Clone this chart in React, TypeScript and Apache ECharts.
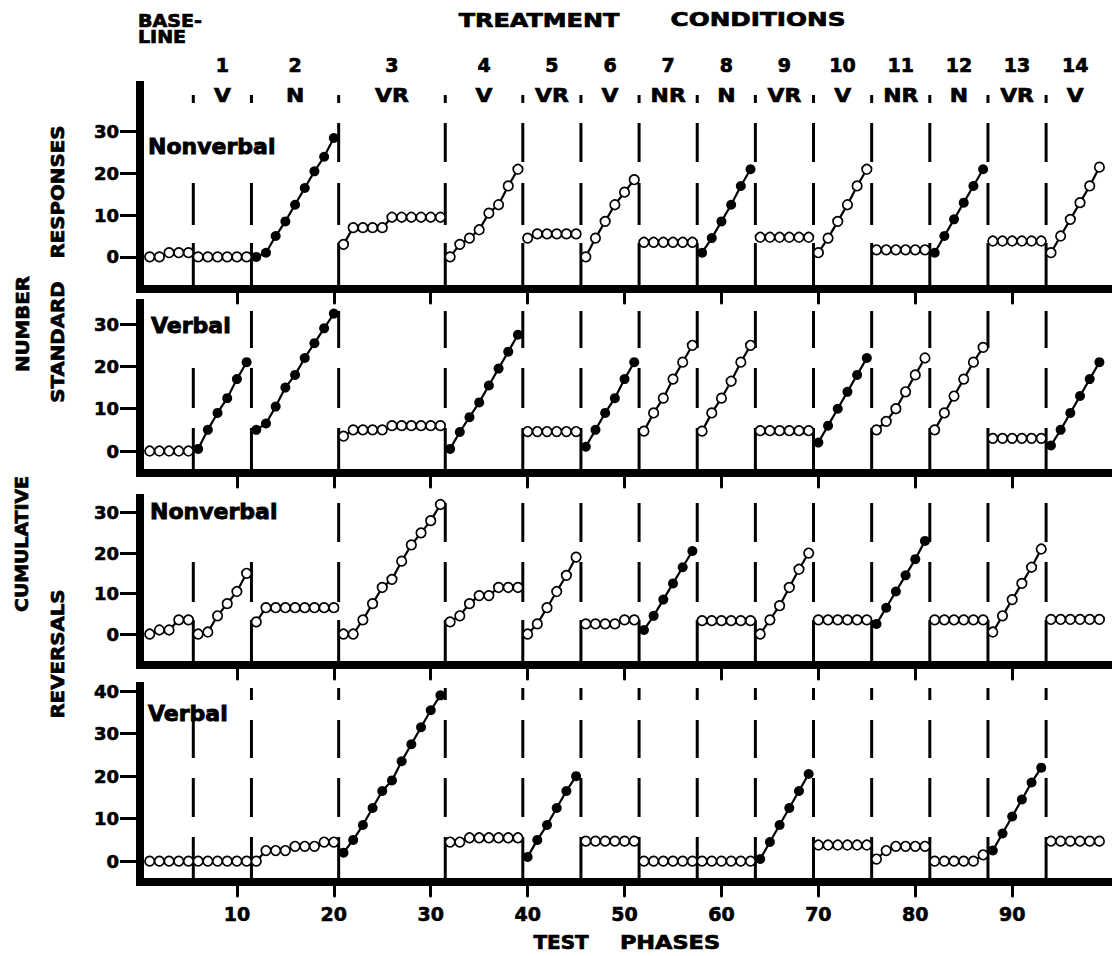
import { useEffect, useRef } from "react";
import * as echarts from "echarts";

// ---------- DATA ----------
const conditionLengths = [5, 6, 9, 11, 8, 6, 6, 6, 6, 6, 6, 6, 6, 6, 6];
const conditionNumbers = ["1", "2", "3", "4", "5", "6", "7", "8", "9", "10", "11", "12", "13", "14"];
const conditionCodes = ["V", "N", "VR", "V", "VR", "V", "NR", "N", "VR", "V", "NR", "N", "VR", "V"];
const xTickValues = [10, 20, 30, 40, 50, 60, 70, 80, 90];
const yTicksShort = [0, 10, 20, 30];
const yTicksTall = [0, 10, 20, 30, 40];
const panelLabels = ["Nonverbal", "Verbal", "Nonverbal", "Verbal"];

// values grouped by condition (index 0 = baseline)
const nonverbalResponses = [
  [0, 0, 1, 1, 1],
  [0, 0, 0, 0, 0, 0],
  [0, 1, 5, 8.5, 12.5, 16.5, 20.5, 24, 28.5],
  [3, 7, 7, 7, 7, 9.5, 9.5, 9.5, 9.5, 9.5, 9.5],
  [0, 3, 4.5, 6.5, 10.5, 12.5, 17, 21],
  [4.5, 5.5, 5.5, 5.5, 5.5, 5.5],
  [0, 4.5, 8.5, 12.5, 15.5, 18.5],
  [3.5, 3.5, 3.5, 3.5, 3.5, 3.5],
  [1, 4.5, 8.5, 12.5, 17, 21],
  [4.7, 4.7, 4.7, 4.7, 4.7, 4.7],
  [1, 4.5, 8.5, 12.5, 17, 21],
  [1.7, 1.7, 1.7, 1.7, 1.7, 1.7],
  [1, 5, 9, 13, 17, 21],
  [3.8, 3.8, 3.8, 3.8, 3.8, 3.8],
  [1, 5, 9, 13, 17, 21.5],
];
const verbalResponses = [
  [0, 0, 0, 0, 0],
  [0.5, 5, 9, 12.5, 17, 21],
  [5, 6.5, 10.5, 15, 18, 22, 25.5, 29, 32.5],
  [3.5, 5, 5, 5, 5, 6, 6, 6, 6, 6, 6],
  [0.5, 4.5, 8, 11.5, 15.5, 19.5, 23.5, 27.5],
  [4.6, 4.6, 4.6, 4.6, 4.6, 4.6],
  [1, 5, 9, 12.5, 17, 21],
  [4.7, 9, 12.5, 17, 21, 25],
  [4.7, 9, 12.5, 16.5, 21, 25],
  [4.8, 4.8, 4.8, 4.8, 4.8, 4.8],
  [2, 6, 10, 14, 18, 22],
  [5, 7, 10, 14, 18, 22],
  [5, 9, 13, 17, 21, 24.5],
  [3, 3, 3, 3, 3, 3],
  [1.3, 5, 9, 13, 17, 21],
];
const nonverbalReversals = [
  [0, 1, 1, 3.5, 3.5],
  [0, 0.5, 4.5, 7.5, 10.5, 15],
  [3, 6.5, 6.5, 6.5, 6.5, 6.5, 6.5, 6.5, 6.5],
  [0, 0, 3.5, 7.5, 11.5, 13.5, 18, 22, 25, 28, 32],
  [3, 4.5, 7.5, 9.5, 9.5, 11.5, 11.5, 11.5],
  [0, 2.5, 6.5, 10.5, 14.5, 19],
  [2.5, 2.5, 2.5, 2.5, 3.5, 3.5],
  [1, 4.5, 8.5, 12.5, 16.5, 20.5],
  [3.3, 3.3, 3.3, 3.3, 3.3, 3.3],
  [0, 3.5, 7, 11.5, 16, 20],
  [3.5, 3.5, 3.5, 3.5, 3.5, 3.5],
  [2.5, 6.5, 10.5, 14.5, 18.5, 23],
  [3.5, 3.5, 3.5, 3.5, 3.5, 3.5],
  [0.5, 4.5, 8.5, 12.5, 16.5, 21],
  [3.6, 3.6, 3.6, 3.6, 3.6, 3.6],
];
const verbalReversals = [
  [0, 0, 0, 0, 0],
  [0, 0, 0, 0, 0, 0],
  [0, 2.5, 2.5, 2.5, 3.5, 3.5, 3.5, 4.5, 4.5],
  [2, 5, 8.5, 12.5, 16.5, 19, 23.5, 27.5, 31.5, 35.5, 39],
  [4.5, 4.5, 5.5, 5.5, 5.5, 5.5, 5.5, 5.5],
  [1, 5, 8.5, 12.5, 16.5, 20],
  [4.7, 4.7, 4.7, 4.7, 4.7, 4.7],
  [0, 0, 0, 0, 0, 0],
  [0, 0, 0, 0, 0, 0],
  [0.5, 4.5, 8.5, 12.5, 16.5, 20.5],
  [3.8, 3.8, 3.8, 3.8, 3.8, 3.8],
  [0.5, 2.5, 3.5, 3.5, 3.5, 3.5],
  [0, 0, 0, 0, 0, 1.5],
  [2.5, 6.5, 10.5, 14.5, 18.5, 22],
  [4.7, 4.7, 4.7, 4.7, 4.7, 4.7],
];
// condition indices drawn with filled dots
const nonverbalResponsesFilled = [2, 8, 12];
const verbalResponsesFilled = [1, 2, 4, 6, 10, 14];
const nonverbalReversalsFilled = [7, 11];
const verbalReversalsFilled = [3, 5, 9, 13];

// ---------- STYLE / LAYOUT ----------
const FONT = "'DejaVu Sans', Verdana, sans-serif";
const GRID_LEFT = 140;
const GRID_WIDTH = 972;
const X_MAX = 100.3;
const panels = [
  { values: nonverbalResponses, filled: nonverbalResponsesFilled, top: 85, height: 204, min: -7.7, max: 41.2, ticks: yTicksShort },
  { values: verbalResponses, filled: verbalResponsesFilled, top: 303, height: 170, min: -5.2, max: 35, ticks: yTicksShort },
  { values: nonverbalReversals, filled: nonverbalReversalsFilled, top: 498, height: 167, min: -7.65, max: 33.6, ticks: yTicksShort },
  { values: verbalReversals, filled: verbalReversalsFilled, top: 686, height: 196, min: -4.9, max: 41.2, ticks: yTicksTall },
];
// dash segments of phase-boundary lines (pixel offsets from grid top)
const dashSegments = [
  [[10, 18], [38, 77], [98, 140], [158, 204]],
  [[8, 45], [65, 105], [125, 170]],
  [[5, 44], [64, 104], [122, 167]],
  [[2, 14], [34, 72], [92, 131], [151, 196]],
];
const dashSkips: Record<number, number[]>[] = [
  { 0: [1], 1: [1] },
  { 0: [0] },
  { 0: [0], 1: [0] },
  { 0: [0] },
];
const panelLabelPos = [
  [148, 146],
  [151, 325],
  [150, 511],
  [148, 713],
];

function conditionStarts() {
  const starts: number[] = [];
  let s = 1;
  for (const len of conditionLengths) {
    starts.push(s);
    s += len;
  }
  return starts;
}

function buildOption() {
  const starts = conditionStarts();
  const boundaries = starts.slice(1).map((s) => [s - 0.5, 0]);
  const grid: any[] = [];
  const xAxis: any[] = [];
  const yAxis: any[] = [];
  const series: any[] = [];

  panels.forEach((p, pi) => {
    grid.push({ left: GRID_LEFT, width: GRID_WIDTH, top: p.top, height: p.height, containLabel: false });
    xAxis.push({
      type: "value",
      gridIndex: pi,
      min: 0,
      max: X_MAX,
      interval: 10,
      splitLine: { show: false },
      axisLine: { show: true, onZero: false, lineStyle: { color: "#000", width: 8, cap: "square" } },
      axisTick: { show: true, customValues: xTickValues, length: 14, lineStyle: { color: "#000", width: 3, cap: "round" } },
      axisLabel: {
        show: pi === 3,
        customValues: xTickValues,
        margin: 22,
        color: "#000",
        fontFamily: FONT,
        fontWeight: "bold",
        fontSize: 19,
        textBorderColor: "#000",
        textBorderWidth: 0.6,
      },
    });
    yAxis.push({
      type: "value",
      gridIndex: pi,
      min: p.min,
      max: p.max,
      splitLine: { show: false },
      axisLine: { show: true, onZero: false, lineStyle: { color: "#000", width: 8, cap: "square" } },
      axisTick: { show: true, customValues: p.ticks, length: 20, lineStyle: { color: "#000", width: 3 } },
      axisLabel: {
        show: true,
        customValues: p.ticks,
        margin: 21,
        color: "#000",
        fontFamily: FONT,
        fontWeight: "bold",
        fontSize: 18,
        textBorderColor: "#000",
        textBorderWidth: 0.6,
      },
    });

    // boundary dashed lines
    series.push({
      type: "custom",
      xAxisIndex: pi,
      yAxisIndex: pi,
      silent: true,
      z: 1,
      data: boundaries,
      encode: { x: 0, y: 1 },
      renderItem: (params: any, api: any) => {
        const x = api.coord([api.value(0), 0])[0];
        const cs = params.coordSys;
        const skip = dashSkips[pi][params.dataIndex] || [];
        return {
          type: "group",
          children: dashSegments[pi]
            .filter((_, i) => skip.indexOf(i) < 0)
            .map(([a, b]) => ({
              type: "line",
              shape: { x1: x, y1: cs.y + a, x2: x, y2: cs.y + b },
              style: { stroke: "#000", lineWidth: 3 },
            })),
        };
      },
    });

    // data series: one per condition
    p.values.forEach((vals, ci) => {
      const isFilled = p.filled.indexOf(ci) >= 0;
      series.push({
        type: "line",
        xAxisIndex: pi,
        yAxisIndex: pi,
        silent: true,
        z: 3,
        data: vals.map((v, k) => [starts[ci] + k, v]),
        symbol: "circle",
        symbolSize: isFilled ? 10 : 9.5,
        showSymbol: true,
        itemStyle: { color: isFilled ? "#000" : "#fff", borderColor: "#000", borderWidth: isFilled ? 0 : 1.7 },
        lineStyle: { color: "#000", width: 2.2 },
        emphasis: { disabled: true },
      });
    });
  });

  return {
    animation: false,
    backgroundColor: "#fff",
    grid,
    xAxis,
    yAxis,
    series,
  };
}

function txt(text: string, x: number, y: number, size: number, opts: any = {}) {
  return {
    type: "text",
    x,
    y,
    z: 100,
    rotation: opts.rotation || 0,
    scaleX: opts.scaleX || 1,
    style: {
      text,
      fill: "#000",
      stroke: "#000",
      lineWidth: opts.stroke == null ? 0.7 : opts.stroke,
      fontFamily: FONT,
      fontWeight: "bold",
      fontSize: size,
      align: opts.align || "center",
      verticalAlign: "middle",
      textAlign: opts.align || "center",
      textVerticalAlign: "middle",
    },
  };
}

export default function App() {
  const ref = useRef<HTMLDivElement>(null);
  useEffect(() => {
    if (!ref.current) return;
    const chart = echarts.init(ref.current, undefined, { renderer: "svg" });
    chart.setOption(buildOption() as any);

    const starts = conditionStarts();
    const graphics: any[] = [];
    // header
    graphics.push(txt("BASE-", 138, 21, 17, { align: "left", scaleX: 1.12 }));
    graphics.push(txt("LINE", 138, 37, 17, { align: "left", scaleX: 1.12 }));
    graphics.push(txt("TREATMENT", 539, 20, 19, { scaleX: 1.26 }));
    graphics.push(txt("CONDITIONS", 758, 20, 19, { scaleX: 1.3 }));
    conditionNumbers.forEach((n, i) => {
      const ci = i + 1;
      const center = starts[ci] + (conditionLengths[ci] - 1) / 2;
      const px = chart.convertToPixel({ xAxisIndex: 0 } as any, center) as unknown as number;
      graphics.push(txt(n, px, 65, 19));
      graphics.push(txt(conditionCodes[i], px, 96, 19, { scaleX: 1.15 }));
    });
    // panel labels
    panelLabels.forEach((l, i) => {
      graphics.push(txt(l, panelLabelPos[i][0], panelLabelPos[i][1], 22, { align: "left", stroke: 0.9 }));
    });
    // y titles (rotated)
    const R = Math.PI / 2;
    graphics.push(txt("NUMBER", 22, 324, 18, { rotation: R, scaleX: 1.1 }));
    graphics.push(txt("CUMULATIVE", 22, 544, 18, { rotation: R, scaleX: 1.05 }));
    graphics.push(txt("RESPONSES", 57, 192, 18, { rotation: R, scaleX: 1.1 }));
    graphics.push(txt("STANDARD", 57, 342, 18, { rotation: R, scaleX: 1.1 }));
    graphics.push(txt("REVERSALS", 57, 654, 18, { rotation: R, scaleX: 1.1 }));
    // x title
    graphics.push(txt("TEST", 561, 943, 19, { scaleX: 1.05 }));
    graphics.push(txt("PHASES", 670, 943, 19, { scaleX: 1.18 }));

    chart.setOption({ graphic: graphics } as any);
    return () => chart.dispose();
  }, []);
  return (
    <div
      ref={ref}
      style={{ position: "fixed", left: 0, top: 0, width: 1112, height: 956, background: "#fff" }}
    />
  );
}
